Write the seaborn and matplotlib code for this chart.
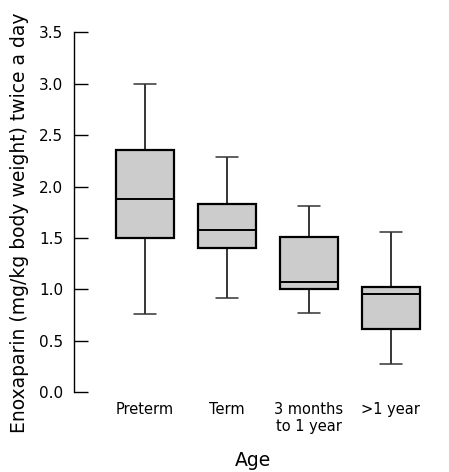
import matplotlib
matplotlib.use("Agg")
import matplotlib.pyplot as plt
import pandas as pd
import seaborn as sns

# box statistics: min, q1, median, q3, max
groups = ["Preterm", "Term", "3 months\nto 1 year", ">1 year"]
mins = [0.76, 0.92, 0.77, 0.27]
q1s = [1.50, 1.40, 1.00, 0.615]
medians = [1.88, 1.58, 1.07, 0.96]
q3s = [2.355, 1.83, 1.51, 1.02]
maxs = [3.0, 2.29, 1.81, 1.56]

rows = []
for i, g in enumerate(groups):
    for v in [mins[i], q1s[i], medians[i], q3s[i], maxs[i]]:
        rows.append({"Age": g, "Dose": v})
df = pd.DataFrame(rows)

sns.set_style("white")
plt.rcParams["font.family"] = ["DejaVu Sans"]
plt.rcParams["text.color"] = "black"
plt.rcParams["axes.labelcolor"] = "black"
plt.rcParams["xtick.color"] = "black"
plt.rcParams["ytick.color"] = "black"

fig = plt.figure(figsize=(4.49, 4.72), dpi=100)
ax = fig.add_axes([0.165, 0.169, 0.797, 0.7626])

sns.boxplot(data=df, x="Age", y="Dose", order=groups, whis=(0, 100), width=0.71,
            color="#cccccc", linecolor="black", linewidth=1.1, saturation=1,
            showfliers=False, ax=ax, capwidths=0.27,
            boxprops={"linewidth": 1.6}, medianprops={"linewidth": 1.4},
            capprops={"color": "#333333"})

ax.set_xlim(-0.86, 3.5)
ax.set_ylim(0, 3.5)
ax.set_yticks([0, 0.5, 1.0, 1.5, 2.0, 2.5, 3.0, 3.5])
ax.set_yticklabels(["0.0", "0.5", "1.0", "1.5", "2.0", "2.5", "3.0", "3.5"])

for s in ["top", "right", "bottom"]:
    ax.spines[s].set_visible(False)
ax.spines["left"].set_color("black")
ax.spines["left"].set_linewidth(1.0)

ax.tick_params(axis="y", left=True, direction="in", length=10, width=1.0, color="black",
               labelcolor="black", labelsize=11, pad=8)
ax.tick_params(axis="x", bottom=False, length=0, labelcolor="black", labelsize=10.5, pad=7)

ax.set_xlabel("Age", fontsize=13.5, labelpad=12)
ax.set_ylabel("Enoxaparin (mg/kg body weight) twice a day", fontsize=13.5, labelpad=8)
ax.yaxis.set_label_coords(-0.125, 0.47)

fig.savefig("out.png", dpi=100)
